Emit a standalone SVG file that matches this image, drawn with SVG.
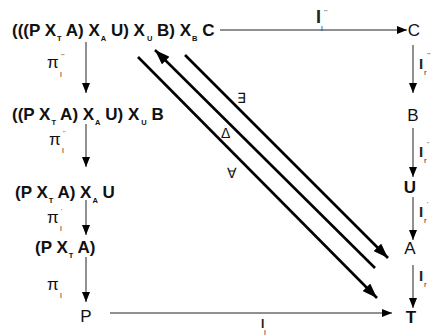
<svg xmlns="http://www.w3.org/2000/svg" width="432" height="336" viewBox="0 0 432 336">
<defs>
<style>
.big{font-family:"Liberation Sans",Arial,sans-serif;font-weight:bold;font-size:17px;fill:#111}
.reg{font-family:"Liberation Sans",Arial,sans-serif;font-size:17px;fill:#111}
.sub{font-size:7.5px}
.lab{font-family:"Liberation Sans",Arial,sans-serif;font-size:17px;fill:#111}
.il{font-weight:bold;fill:#222}
.ls{font-family:"Liberation Sans",Arial,sans-serif;font-size:8px;fill:#333}
.thin{stroke:#222;stroke-width:1;fill:none}
.thick{stroke:#000;stroke-width:2.6;fill:none}
</style>
<marker id="ah" viewBox="0 0 10 8" refX="10" refY="4" markerWidth="10" markerHeight="8" markerUnits="userSpaceOnUse" orient="auto"><path d="M0,0 L10,4 L0,8 z" fill="#000"/></marker>
<marker id="ahb" viewBox="0 0 14 10" refX="14" refY="5" markerWidth="15" markerHeight="11" markerUnits="userSpaceOnUse" orient="auto"><path d="M0,0 L14,5 L0,10 z" fill="#000"/></marker>
</defs>

<g id="n1"><text class="big" x="12" y="36">(((P X<tspan class="sub" dx="1" dy="5">T</tspan><tspan dx="0" dy="-5"> A) X</tspan><tspan class="sub" dx="1" dy="5">A</tspan><tspan dy="-5"> U) X</tspan><tspan class="sub" dx="2" dy="5">U</tspan><tspan dy="-5"> B) X</tspan><tspan class="sub" dx="1" dy="5">B</tspan><tspan dy="-5"> C</tspan></text></g>
<g id="n2"><text class="big" x="12" y="120">((P X<tspan class="sub" dx="1" dy="5">T</tspan><tspan dy="-5"> A) X</tspan><tspan class="sub" dx="1" dy="5">A</tspan><tspan dy="-5"> U) X</tspan><tspan class="sub" dx="2" dy="5">U</tspan><tspan dy="-5"> B</tspan></text></g>
<g id="n3"><text class="big" x="15" y="198">(P X<tspan class="sub" dx="1" dy="5">T</tspan><tspan dy="-5"> A) X</tspan><tspan class="sub" dx="1" dy="5">A</tspan><tspan dy="-5"> U</tspan></text></g>
<g id="n4"><text class="big" x="35" y="253">(P X<tspan class="sub" dx="1" dy="5">T</tspan><tspan dy="-5"> A)</tspan></text></g>
<g id="n5"><text class="reg" x="86" y="322" text-anchor="middle">P</text></g>
<g id="n6"><text class="reg" x="414" y="36" text-anchor="middle">C</text></g>
<g id="n7"><text class="reg" x="413" y="121" text-anchor="middle">B</text></g>
<g id="n8"><text class="big" x="410" y="193" text-anchor="middle">U</text></g>
<g id="n9"><text class="reg" x="410" y="254" text-anchor="middle">A</text></g>
<g id="n10"><text class="big" x="411" y="323" text-anchor="middle">T</text></g>

<g id="connectors">
<line class="thin" x1="220" y1="30" x2="407" y2="30" marker-end="url(#ah)"/>
<line class="thin" x1="110" y1="313" x2="392" y2="313" marker-end="url(#ah)"/>
<line class="thin" x1="86" y1="42" x2="86" y2="93" marker-end="url(#ah)"/>
<line class="thin" x1="86" y1="124" x2="86" y2="167" marker-end="url(#ah)"/>
<line class="thin" x1="86" y1="200" x2="86" y2="235" marker-end="url(#ah)"/>
<line class="thin" x1="86" y1="257" x2="86" y2="302" marker-end="url(#ah)"/>
<line class="thin" x1="413" y1="45" x2="413" y2="93" marker-end="url(#ah)"/>
<line class="thin" x1="413" y1="128" x2="413" y2="177" marker-end="url(#ah)"/>
<line class="thin" x1="413" y1="197" x2="413" y2="240" marker-end="url(#ah)"/>
<line class="thin" x1="413" y1="265" x2="413" y2="308" marker-end="url(#ah)"/>
<line class="thick" x1="138" y1="57" x2="377" y2="298" marker-end="url(#ahb)"/>
<line class="thick" x1="375" y1="268" x2="155" y2="50" marker-end="url(#ahb)"/>
<line class="thick" x1="185" y1="55" x2="388" y2="258" marker-end="url(#ahb)"/>

<text class="lab il" x="316" y="23" style="font-size:18px">I</text><text class="ls" x="321" y="31">l</text><text class="ls" x="324" y="14" style="font-size:6px">'''</text>
<text class="lab il" x="261" y="328" style="font-size:12px">I</text><text class="ls" x="264" y="335">l</text>
<text class="lab" x="47" y="68">π</text><text class="ls" x="60" y="77">l</text><text class="ls" x="61" y="58" style="font-size:6px">'''</text>
<text class="lab" x="49" y="145">π</text><text class="ls" x="62" y="153">l</text><text class="ls" x="63" y="135" style="font-size:6px">''</text>
<text class="lab" x="47" y="223">π</text><text class="ls" x="60" y="231">l</text><text class="ls" x="61" y="213" style="font-size:6px">'</text>
<text class="lab" x="47" y="290">π</text><text class="ls" x="60" y="298">l</text>
<text class="lab il" x="419" y="69" style="font-size:15px">I</text><text class="ls" x="424" y="75">r</text><text class="ls" x="427" y="57" style="font-size:6px">'''</text>
<text class="lab il" x="419" y="157" style="font-size:15px">I</text><text class="ls" x="424" y="163">r</text><text class="ls" x="427" y="146" style="font-size:6px">''</text>
<text class="lab il" x="419" y="217" style="font-size:15px">I</text><text class="ls" x="424" y="223">r</text><text class="ls" x="427" y="206" style="font-size:6px">'</text>
<text class="lab il" x="419" y="281" style="font-size:15px">I</text><text class="ls" x="424" y="287">r</text>
<text class="lab" x="237" y="103" style="font-size:14px">∃</text>
<text class="lab" x="221" y="138" style="font-size:14px">Δ</text>
<text class="lab" x="227" y="178" style="font-size:14px">∀</text>
</g>
</svg>
